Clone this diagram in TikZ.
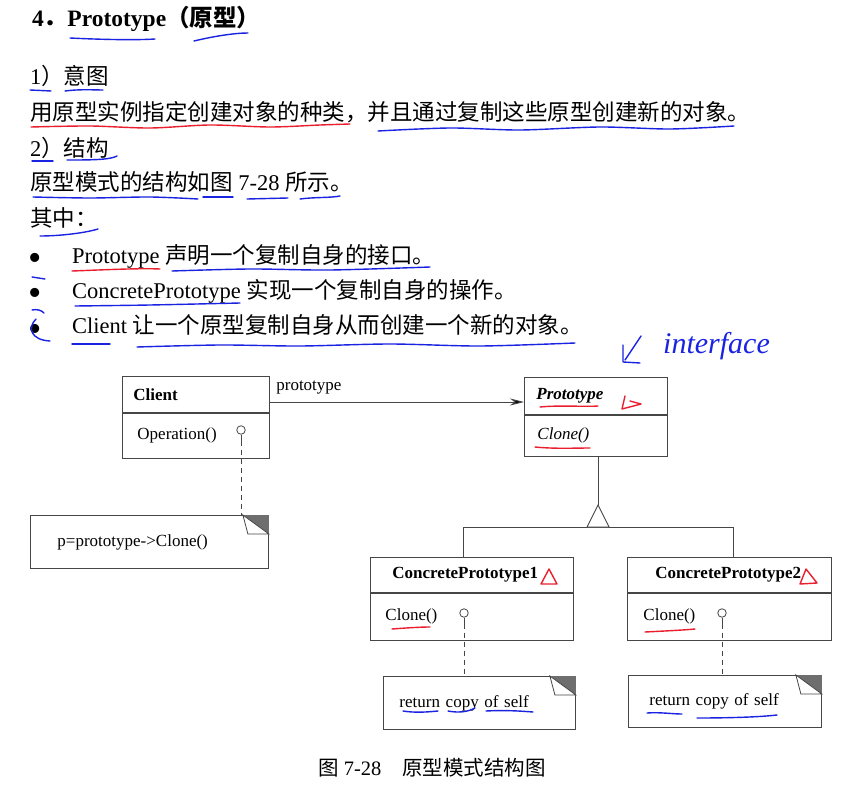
\documentclass[tikz,border=0pt]{standalone}
\usepackage{fontspec}
\setmainfont{Liberation Serif}
\newfontfamily\cjk{Noto Sans CJK SC}
\usetikzlibrary{arrows.meta, positioning, calc}
\definecolor{inkblue}{RGB}{25, 35, 225}
\definecolor{inkred}{RGB}{235, 30, 45}
\definecolor{boxline}{RGB}{70, 70, 70}
\definecolor{foldgray}{RGB}{110, 110, 110}
\newcommand{\bodysize}{\fontsize{22.5}{27}\selectfont}
\newcommand{\titlesize}{\fontsize{23.5}{28}\selectfont}
\newcommand{\umlsize}{\fontsize{17}{20}\selectfont}
\newcommand{\capsize}{\fontsize{20.5}{24}\selectfont}
% folded corner of a note
\newcommand{\notefold}[1]{%
  \fill[foldgray] ($(#1.north east)+(-26,0)$) -- (#1.north east) -- ($(#1.north east)+(0,19)$) -- cycle;
  \draw[boxline, line width=0.8pt, fill=white] ($(#1.north east)+(-26,0)$) -- ($(#1.north east)+(-21,19)$) -- ($(#1.north east)+(0,19)$) -- cycle;}

\begin{document}
\begin{tikzpicture}[x=1pt, y=-1pt,
  line/.style={anchor=base west, inner sep=0pt, font=\bodysize},
  dot/.style={anchor=center, inner sep=0pt, font=\fontsize{38}{38}\selectfont},
  umlpart/.style={draw=boxline, line width=0.9pt, fill=white, font=\umlsize, align=left, inner ysep=0pt},
  notebox/.style={draw=boxline, line width=0.9pt, fill=white, font=\umlsize, align=left, inner ysep=0pt, anchor=north west},
  ball/.style={circle, draw=boxline, line width=0.8pt, fill=white, inner sep=0pt, minimum size=8.5pt},
  wire/.style={draw=boxline, line width=0.9pt},
  stub/.style={draw=boxline, line width=0.8pt, dash pattern=on 5pt off 4pt},
  assoc/.style={draw=boxline, line width=0.9pt, -{Stealth[length=14pt, width=7pt, fill=black]}},
  pen/.style={line width=1.4pt, line cap=round, line join=round}
]
  \useasboundingbox (0,0) rectangle (845,786);
  \fill[white] (0,0) rectangle (845,786);

  % text above the diagram
  \node[line, font=\titlesize\bfseries] (title) at (32,27) {4{\cjk ．}Prototype{\cjk （原型）}};
  \node[line] (intent) at (30,85) {1{\cjk ）意图}};
  \node[line] (intentdesc) at (30,121) {\cjk 用原型实例指定创建对象的种类，并且通过复制这些原型创建新的对象。};
  \node[line] (struct) at (30,157) {2{\cjk ）结构}};
  \node[line] (structdesc) at (30,191) {{\cjk 原型模式的结构如图} 7-28 {\cjk 所示。}};
  \node[line] (among) at (30,226) {\cjk 其中：};
  \node[dot] (bul1) at (35,262) {•};
  \node[dot] (bul2) at (35,297) {•};
  \node[dot] (bul3) at (35,333) {•};
  \node[line] (item1) at (72,263) {Prototype {\cjk 声明一个复制自身的接口。}};
  \node[line] (item2) at (72,298) {ConcretePrototype {\cjk 实现一个复制自身的操作。}};
  \node[line] (item3) at (72,333) {Client {\cjk 让一个原型复制自身从而创建一个新的对象。}};

  % classes
  \node[umlpart, anchor=north west, inner xsep=11pt, text width=125pt, minimum height=36pt] (clienth) at (122,376) {\textbf{Client}};
  \node[umlpart, below=0pt of clienth, inner xsep=15pt, text width=117pt, minimum height=45pt] (clientb) {Operation()};
  \node[umlpart, anchor=north west, inner xsep=12pt, text width=119pt, minimum height=37pt] (protoh) at (524,377) {\textbf{\textit{Prototype}}};
  \node[umlpart, below=0pt of protoh, inner xsep=13pt, text width=117pt, minimum height=41pt] (protob) {\textit{Clone()}};
  \node[umlpart, anchor=north west, inner xsep=22pt, text width=159pt, minimum height=35pt] (cp1h) at (370,557) {\textbf{ConcretePrototype1}};
  \node[umlpart, below=0pt of cp1h, inner xsep=15pt, text width=173pt, minimum height=47pt] (cp1b) {Clone()};
  \node[umlpart, anchor=north west, inner xsep=28pt, text width=148pt, minimum height=35pt] (cp2h) at (627,557) {\textbf{ConcretePrototype2}};
  \node[umlpart, below=0pt of cp2h, inner xsep=16pt, text width=172pt, minimum height=47pt] (cp2b) {Clone()};

  % notes
  \node[notebox, inner xsep=27pt, text width=184pt, minimum height=53pt] (clientnote) at (30,515) {p=prototype->Clone()};
  \node[notebox, inner xsep=16pt, text width=160pt, minimum height=53pt] (cp1note) at (383,676) {return copy of self};
  \node[notebox, inner xsep=21pt, text width=151pt, minimum height=52pt] (cp2note) at (628,675) {return copy of self};
  \notefold{clientnote}
  \notefold{cp1note}
  \notefold{cp2note}

  % lollipops
  \node[ball] (opball) at (241,430) {};
  \node[ball] (cp1ball) at (464,613) {};
  \node[ball] (cp2ball) at (722,613) {};
  \draw[wire, line width=0.8pt] (opball.south) -- ++(0,6) coordinate (opstem);
  \draw[wire, line width=0.8pt] (cp1ball.south) -- ++(0,6) coordinate (cp1stem);
  \draw[wire, line width=0.8pt] (cp2ball.south) -- ++(0,6) coordinate (cp2stem);
  \draw[stub] (opstem) -- (opstem |- clientnote.north);
  \draw[stub] (cp1stem) -- (cp1stem |- cp1note.north);
  \draw[stub] (cp2stem) -- (cp2stem |- cp2note.north);

  % association
  \coordinate (assocy) at (0,402);
  \draw[assoc] (clienth.east |- assocy) -- (protoh.west |- assocy)
    node[pos=0, anchor=base west, inner sep=0pt, font=\umlsize, xshift=6pt, yshift=12pt] (protolabel) {prototype};

  % inheritance
  \coordinate (apex) at (598,505);
  \coordinate (j1) at (463,527);
  \coordinate (j2) at (733,527);
  \draw[wire] (apex |- protob.south) -- (apex);
  \draw[wire] (j1 |- cp1h.north) -- (j1) -- (j2) -- (j2 |- cp2h.north);
  \draw[wire, fill=white] (apex) -- ++(-11,22) -- ++(22,0) -- cycle;

  % caption
  \node[line, font=\capsize] (caption) at (318,775) {{\cjk 图} 7-28\hspace{21pt}{\cjk 原型模式结构图}};

  % hand marks, blue
  \draw[pen, inkblue] (70,38) .. controls (110,40) and (140,40) .. (155,39);
  \draw[pen, inkblue] (194,41) .. controls (215,36) and (235,33) .. (248,33);
  \draw[pen, inkblue] (30,90) -- (51,91);
  \draw[pen, inkblue] (65,91) .. controls (80,89) and (95,90) .. (103,90);
  \draw[pen, inkblue] plot[smooth] coordinates {(378,131) (450,128) (520,130) (600,127) (670,129) (734,126)};
  \draw[pen, inkblue] (32,161) -- (53,161);
  \draw[pen, inkblue] (67,160) .. controls (90,160) and (110,160) .. (117,156);
  \draw[pen, inkblue] plot[smooth] coordinates {(33,197) (90,198) (150,197) (198,199)};
  \draw[pen, inkblue] (203,197) -- (233,197);
  \draw[pen, inkblue] (247,199) -- (288,198);
  \draw[pen, inkblue] (300,199) .. controls (315,197) and (330,198) .. (340,196);
  \draw[pen, inkblue] (40,236) .. controls (60,236) and (85,233) .. (98,229);
  \draw[pen, inkblue] plot[smooth] coordinates {(172,271) (250,269) (330,270) (430,267)};
  \draw[pen, inkblue] (32,277) -- (45,279);
  \draw[pen, inkblue] plot[smooth] coordinates {(75,306) (150,305) (240,303)};
  \draw[pen, inkblue] (32,310) .. controls (37,309) and (41,310) .. (44,313);
  \draw[pen, inkblue] (36,319) .. controls (27,328) and (31,340) .. (50,341);
  \draw[pen, inkblue] (72,344) -- (110,344);
  \draw[pen, inkblue] plot[smooth] coordinates {(137,347) (220,345) (300,346) (390,344) (480,346) (575,343)};
  \draw[pen, inkblue] (641,336) -- (625,360);
  \draw[pen, inkblue] (623,345) -- (623,362) -- (640,363);
  \node[anchor=base west, inner sep=0pt, text=inkblue, font=\fontsize{30}{30}\selectfont\itshape] (iface) at (663,353) {interface};
  \draw[pen, inkblue] (403,711) .. controls (415,713) and (428,712) .. (438,711);
  \draw[pen, inkblue] (448,711) .. controls (458,713) and (468,712) .. (475,708);
  \draw[pen, inkblue] (486,711) .. controls (505,710) and (520,711) .. (533,712);
  \draw[pen, inkblue] (647,713) .. controls (660,712) and (672,714) .. (682,714);
  \draw[pen, inkblue] (697,718) .. controls (730,718) and (760,717) .. (777,715);

  % hand marks, red
  \draw[pen, inkred] plot[smooth] coordinates {(31,127) (90,126) (150,128) (210,125) (270,127) (320,125) (350,124)};
  \draw[pen, inkred] (72,271) .. controls (100,270) and (140,268) .. (160,269);
  \draw[pen, inkred] (540,407) .. controls (560,405) and (585,407) .. (598,406);
  \draw[pen, inkred] (535,447) .. controls (555,449) and (575,448) .. (590,448);
  \draw[pen, inkred] (392,629) .. controls (405,628) and (420,627) .. (430,627);
  \draw[pen, inkred] (645,632) .. controls (665,631) and (685,630) .. (695,629);
  \draw[pen, inkred] (625,396) -- (622,409) -- (641,404) -- (630,401);
  \draw[pen, inkred] (549,569) -- (541,584) -- (557,584) -- cycle;
  \draw[pen, inkred] (806,569) -- (800,584) -- (817,583) -- cycle;
\end{tikzpicture}
\end{document}
